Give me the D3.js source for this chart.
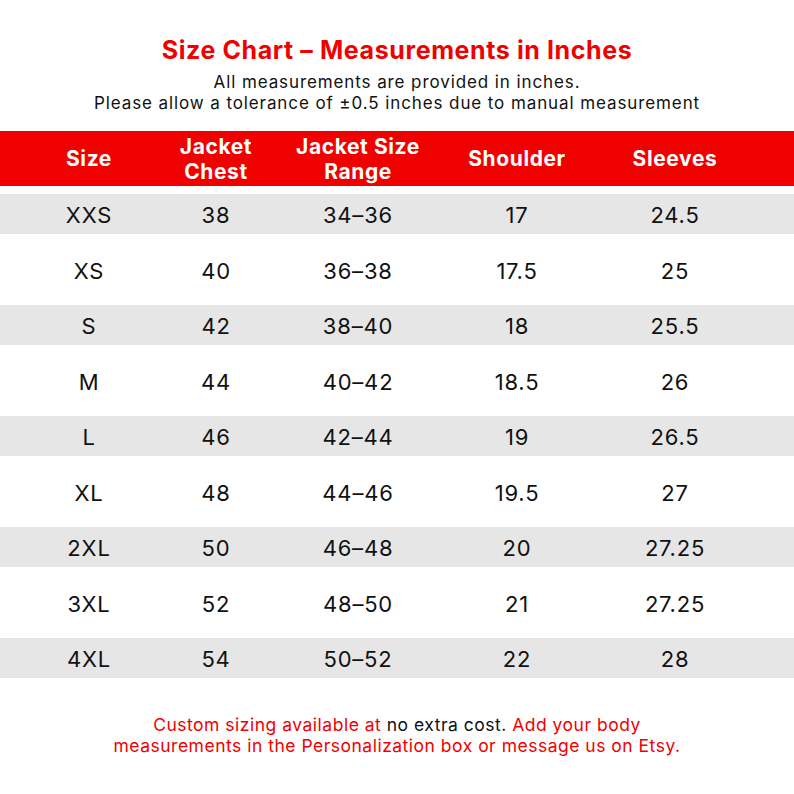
<!DOCTYPE html>
<html><head><meta charset="utf-8">
<script src="https://cdn.jsdelivr.net/npm/d3@7"></script>
<style>body{margin:0;background:#fff}</style>
</head><body>
<script>
// table data
var headers = [["Size"], ["Jacket", "Chest"], ["Jacket Size", "Range"], ["Shoulder"], ["Sleeves"]];
var sizes = ["XXS", "XS", "S", "M", "L", "XL", "2XL", "3XL", "4XL"];
var chest = ["38", "40", "42", "44", "46", "48", "50", "52", "54"];
var range = ["34–36", "36–38", "38–40", "40–42", "42–44", "44–46", "46–48", "48–50", "50–52"];
var shoulder = ["17", "17.5", "18", "18.5", "19", "19.5", "20", "21", "22"];
var sleeves = ["24.5", "25", "25.5", "26", "26.5", "27", "27.25", "27.25", "28"];

var W = 794, H = 794, red = "#f10000", font = "Inter, 'Open Sans', sans-serif";
var svg = d3.select("body").append("svg").attr("width", W).attr("height", H);

var colX = [89, 216, 358, 517, 675];
var y = d3.scaleLinear().domain([0, 8]).range([215, 659]);

svg.append("text").attr("x", W / 2).attr("y", 59).attr("text-anchor", "middle")
  .attr("font-family", font).attr("font-weight", 700).attr("font-size", 25).attr("letter-spacing", 0.6)
  .attr("fill", red).text("Size Chart – Measurements in Inches");
svg.selectAll(".sub").data(["All measurements are provided in inches.",
  "Please allow a tolerance of ±0.5 inches due to manual measurement"])
  .enter().append("text").attr("x", W / 2).attr("y", function(d, i) { return 88 + i * 21; })
  .attr("text-anchor", "middle").attr("font-family", font).attr("font-size", 17)
  .attr("letter-spacing", 0.9).attr("fill", "#111")
  .text(function(d) { return d; });

svg.append("rect").attr("x", 0).attr("y", 131).attr("width", W).attr("height", 55).attr("fill", red);
headers.forEach(function(h, i) {
  var t = svg.append("text").attr("text-anchor", "middle").attr("font-family", font)
    .attr("font-weight", 700).attr("font-size", 21).attr("letter-spacing", 0.6).attr("fill", "#fff");
  h.forEach(function(line, j) {
    t.append("tspan").attr("x", colX[i])
      .attr("y", 166 + (j - (h.length - 1) / 2) * 25).text(line);
  });
});

svg.selectAll(".band").data(sizes.filter(function(d, i) { return i % 2 == 0; }))
  .enter().append("rect").attr("x", 0).attr("width", W).attr("height", 40)
  .attr("y", function(d, i) { return y(i * 2) - 21; }).attr("fill", "#e6e6e6");

var cols = [sizes, chest, range, shoulder, sleeves];
cols.forEach(function(col, c) {
  svg.selectAll(".c" + c).data(col).enter().append("text")
    .attr("x", colX[c]).attr("y", function(d, i) { return y(i) + 8; })
    .attr("text-anchor", "middle").attr("font-family", font).attr("font-size", 22)
    .attr("letter-spacing", 0.8).attr("fill", "#111")
    .text(function(d) { return d; });
});

var f1 = svg.append("text").attr("x", W / 2).attr("y", 731).attr("text-anchor", "middle")
  .attr("font-family", font).attr("font-size", 17.5).attr("letter-spacing", 0.5).attr("fill", red);
f1.append("tspan").text("Custom sizing available at ");
f1.append("tspan").attr("fill", "#111").text("no extra cost.");
f1.append("tspan").text(" Add your body");
svg.append("text").attr("x", W / 2).attr("y", 752).attr("text-anchor", "middle")
  .attr("font-family", font).attr("font-size", 17.5).attr("letter-spacing", 0.5).attr("fill", red)
  .text("measurements in the Personalization box or message us on Etsy.");
</script>
</body></html>
